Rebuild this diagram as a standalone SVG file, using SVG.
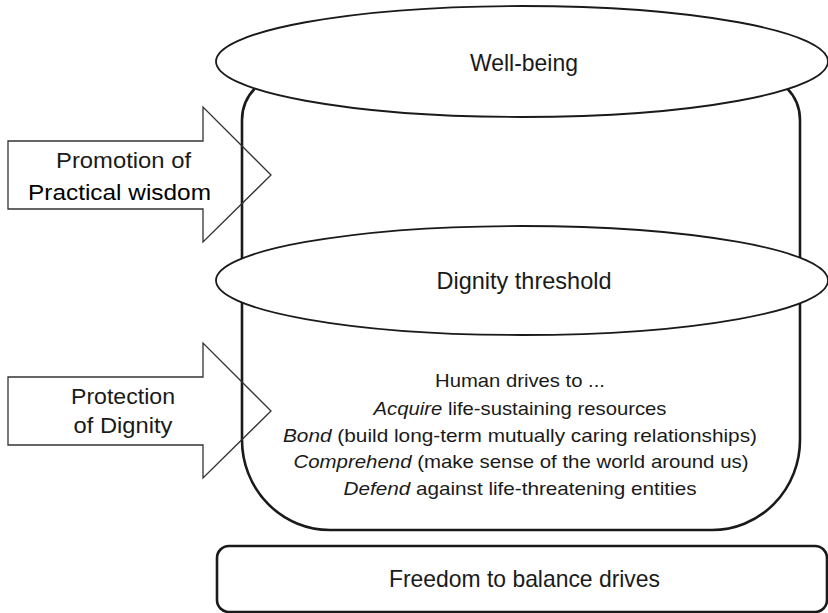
<svg xmlns="http://www.w3.org/2000/svg" width="828" height="613" viewBox="0 0 828 613">
<style>
  text { font-family: "Liberation Sans", Arial, sans-serif; fill: #1a1a1a; text-anchor: middle; }
  .shape { fill: #ffffff; stroke: #1a1a1a; }
  .body { stroke-width: 2.6; }
  .ell { stroke-width: 1.8; }
  .arrow { fill: none; stroke: #333333; stroke-width: 1.3; stroke-linejoin: miter; }
  .lbl { font-size: 24px; }
  .arr { font-size: 22px; }
  .drv { font-size: 18.5px; }
  .it { font-style: italic; }
</style>
<g id="cylinder-body">
  <path class="shape body" d="M242,120 A45,45 0 0 1 287,75 L755,75 A45,45 0 0 1 800,120 L800,440 A88,90 0 0 1 712,530 L330,530 A88,90 0 0 1 242,440 Z"/>
  <text class="drv" x="520" y="387" textLength="170" lengthAdjust="spacingAndGlyphs">Human drives to ...</text>
  <text class="drv" x="520" y="415" textLength="293" lengthAdjust="spacingAndGlyphs"><tspan class="it">Acquire</tspan> life-sustaining resources</text>
  <text class="drv" x="520" y="442" textLength="474" lengthAdjust="spacingAndGlyphs"><tspan class="it">Bond</tspan> (build long-term mutually caring relationships)</text>
  <text class="drv" x="521" y="468" textLength="455" lengthAdjust="spacingAndGlyphs"><tspan class="it">Comprehend</tspan> (make sense of the world around us)</text>
  <text class="drv" x="520" y="495" textLength="353" lengthAdjust="spacingAndGlyphs"><tspan class="it">Defend</tspan> against life-threatening entities</text>
</g>
<g id="well-being">
  <ellipse class="shape ell" cx="522" cy="61.5" rx="306" ry="55.5"/>
  <text class="lbl" x="524" y="71" textLength="108" lengthAdjust="spacingAndGlyphs">Well-being</text>
</g>
<g id="dignity-threshold">
  <ellipse class="shape ell" cx="522" cy="280.5" rx="306" ry="54.5"/>
  <text class="lbl" x="524" y="289" textLength="175" lengthAdjust="spacingAndGlyphs">Dignity threshold</text>
</g>
<g id="freedom">
  <rect class="shape body" x="217" y="546" width="610" height="66" rx="12" ry="12"/>
  <text class="lbl" x="524.5" y="587" textLength="271" lengthAdjust="spacingAndGlyphs">Freedom to balance drives</text>
</g>
<g id="connectors">
  <g id="arrow-promotion">
    <path class="arrow" d="M8,141 L203,141 L203,107 L271,175 L203,242 L203,209 L8,209 Z"/>
    <text class="arr" x="123.5" y="168" textLength="135" lengthAdjust="spacingAndGlyphs">Promotion of</text>
    <text class="arr" x="119.5" y="200" textLength="183" lengthAdjust="spacingAndGlyphs" style="fill:#000">Practical wisdom</text>
  </g>
  <g id="arrow-protection">
    <path class="arrow" d="M8,377 L203,377 L203,343 L271,411 L203,478 L203,445 L8,445 Z"/>
    <text class="arr" x="123" y="404" textLength="104" lengthAdjust="spacingAndGlyphs">Protection</text>
    <text class="arr" x="123" y="433" textLength="99" lengthAdjust="spacingAndGlyphs">of Dignity</text>
  </g>
</g>
</svg>
